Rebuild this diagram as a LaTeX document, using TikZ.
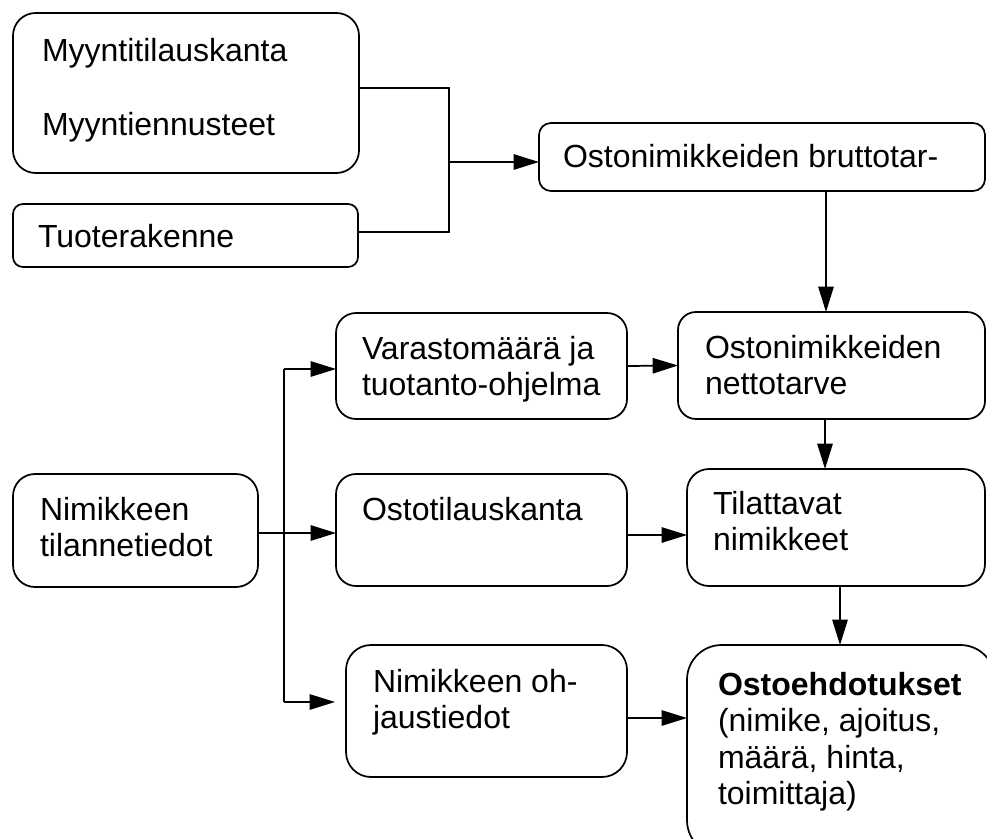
\documentclass[tikz,border=0pt]{standalone}
\usepackage{fontspec}
\setmainfont{Liberation Sans}
\usetikzlibrary{arrows.meta}
\newcommand\boxtxt[1]{\begin{tabular}[t]{@{}l@{}}#1\end{tabular}}
\begin{document}
\begin{tikzpicture}[x=0.75pt,y=-0.75pt,
  box/.style={draw,line width=1.3pt,inner sep=0pt,outer sep=0pt},
  txt/.style={inner sep=0pt,outer sep=0pt,anchor=base west,font=\fontsize{24}{27.4}\selectfont},
  line/.style={line width=1.3pt},
  arr/.style={line width=1.3pt,-{Triangle[length=19pt,width=11.5pt]}}]
\useasboundingbox (0,0) rectangle (987,838);
% boxes
\node[box,rounded corners=17pt,minimum width=259.5pt,minimum height=120pt] (A) at (186,93) {};
\node[box,rounded corners=7.5pt,minimum width=258.75pt,minimum height=47.25pt] (B) at (185.5,235.5) {};
\node[box,rounded corners=9pt,minimum width=334.5pt,minimum height=51pt] (C) at (762,157) {};
\node[box,rounded corners=13.5pt,minimum width=230.25pt,minimum height=80.25pt] (D) at (831.5,365.5) {};
\node[box,rounded corners=15pt,minimum width=218.25pt,minimum height=79.5pt] (F) at (481.5,366) {};
\node[box,rounded corners=16.5pt,minimum width=183.75pt,minimum height=84.75pt] (G) at (135.5,530.5) {};
\node[box,rounded corners=15pt,minimum width=218.25pt,minimum height=84pt] (H) at (481.5,530) {};
\node[box,rounded corners=16.5pt,minimum width=223.5pt,minimum height=87.75pt] (E) at (836,527.5) {};
\node[box,rounded corners=18.75pt,minimum width=210.75pt,minimum height=99pt] (I) at (486.5,711) {};
\node[box,rounded corners=26pt,minimum width=231pt,minimum height=157.5pt] (J) at (841,750) {};
% texts
\node[txt] (tA) at (42,62) {\boxtxt{Myyntitilauskanta\\ \\Myyntiennusteet}};
\node[txt] (tB) at (38,247) {\boxtxt{Tuoterakenne}};
\node[txt] (tC) at (563,167) {\boxtxt{Ostonimikkeiden bruttotar-}};
\node[txt] (tD) at (705,358) {\boxtxt{Ostonimikkeiden\\nettotarve}};
\node[txt] (tF) at (362,359) {\boxtxt{Varastomäärä ja\\tuotanto-ohjelma}};
\node[txt] (tG) at (40,520) {\boxtxt{Nimikkeen\\tilannetiedot}};
\node[txt] (tH) at (362,520) {\boxtxt{Ostotilauskanta}};
\node[txt] (tE) at (713,514) {\boxtxt{Tilattavat\\nimikkeet}};
\node[txt] (tI) at (373,692) {\boxtxt{Nimikkeen oh-\\jaustiedot}};
\node[txt] (tJ) at (718,695) {\boxtxt{\textbf{Ostoehdotukset}\\(nimike, ajoitus,\\määrä, hinta,\\toimittaja)}};
% helper coordinates
\coordinate (ja) at (449,88);
\coordinate (jb) at (449,232);
\coordinate (jc) at (449,162);
\coordinate (xcd) at (826,0);
\coordinate (xde) at (825,0);
\coordinate (xej) at (840,0);
\coordinate (yhe) at (0,535);
\coordinate (yij) at (0,718);
\coordinate (ym) at (0,533);
\coordinate (bt) at (284,369);
\coordinate (bb) at (284,702);
\coordinate (tipI) at (335,702);
% connectors
\draw[line] (A.east |- ja) -- (ja) -- (jb) -- (B.east |- jb);
\draw[arr] (jc) -- (C.west |- jc);
\draw[arr] (C.south -| xcd) -- (D.north -| xcd);
\draw[arr] (D.south -| xde) -- (E.north -| xde);
\draw[arr] (E.south -| xej) -- (J.north -| xej);
\draw[arr] (F.east) -- (D.west);
\draw[arr] (H.east |- yhe) -- (E.west |- yhe);
\draw[arr] (I.east |- yij) -- (J.west |- yij);
\draw[line] (bb) -- (bt);
\draw[arr] (bt) -- (F.west |- bt);
\draw[arr] (G.east |- ym) -- (H.west |- ym);
\draw[arr] (bb) -- (tipI);
\end{tikzpicture}
\end{document}
